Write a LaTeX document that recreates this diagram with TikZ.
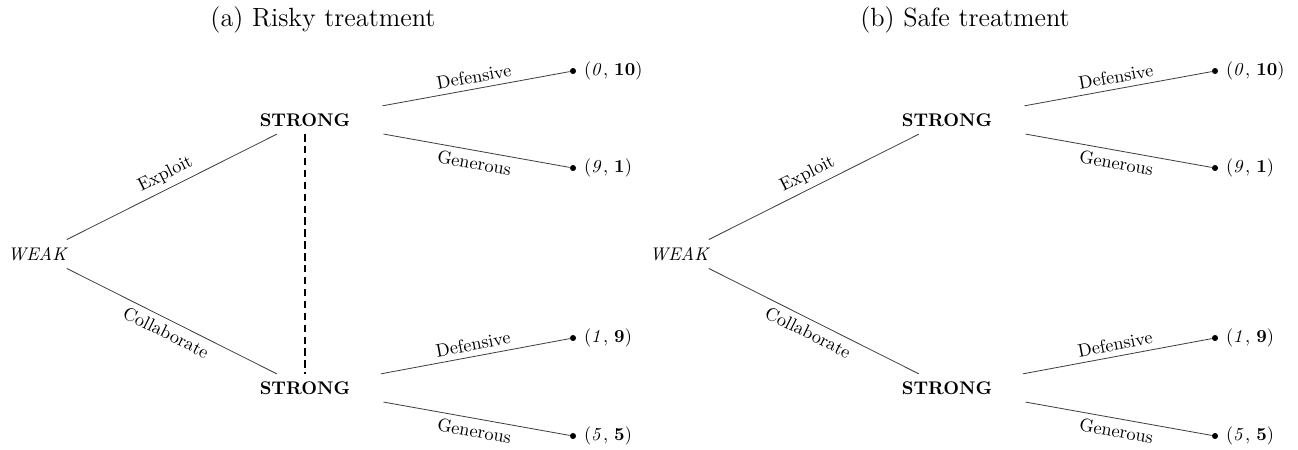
\documentclass[tikz,border=0pt]{standalone}
\usepackage{tikz}
\usetikzlibrary{positioning}

\tikzset{
	player/.style={inner sep=4pt},
	mover/.style={inner sep=4pt, minimum width=3cm},
	leaf/.style={circle, fill=black, inner sep=0pt, minimum size=3.3pt},
	payoff/.style={inner sep=2pt},
	move/.style={draw=black!75, line width=0.45pt},
	act/.style={midway, sloped, inner sep=3pt},
	info/.style={thick, dash pattern=on 4pt off 2.5pt}
}

\begin{document}
\begin{tikzpicture}[x=0.0192cm, y=-0.0192cm]

	\useasboundingbox (0,0) rectangle (1298,449);

	%Panel (a)
	\node (titleA) at (323,20) {\Large (a) Risky treatment};
	\node[player] (weakA) at (38,254) {\textit{WEAK}};
	\node[mover] (topA) at (305,120) {\textbf{STRONG}};
	\node[mover] (botA) at (305,388) {\textbf{STRONG}};

	%Leaves (a)
	\node[leaf] (leafA1) at (573,71) {};
	\node[leaf] (leafA2) at (573,168) {};
	\node[leaf] (leafA3) at (573,338) {};
	\node[leaf] (leafA4) at (573,436) {};
	\node[payoff, right=2pt of leafA1] (payA1) {($\mathit{0}$, $\mathbf{10}$)};
	\node[payoff, right=2pt of leafA2] (payA2) {($\mathit{9}$, $\mathbf{1}$)};
	\node[payoff, right=2pt of leafA3] (payA3) {($\mathit{1}$, $\mathbf{9}$)};
	\node[payoff, right=2pt of leafA4] (payA4) {($\mathit{5}$, $\mathbf{5}$)};

	%Moves (a)
	\draw[move] (weakA) -- node[act, above] {Exploit} (topA);
	\draw[move] (weakA) -- node[act, below] {Collaborate} (botA);
	\draw[move] (topA) -- node[act, above] {Defensive} (leafA1);
	\draw[move] (topA) -- node[act, below] {Generous} (leafA2);
	\draw[move] (botA) -- node[act, above] {Defensive} (leafA3);
	\draw[move] (botA) -- node[act, below] {Generous} (leafA4);
	\draw[info] (topA) -- (botA);

	%Panel (b)
	\node (titleB) at (965,20) {\Large (b) Safe treatment};
	\node[player] (weakB) at (680,254) {\textit{WEAK}};
	\node[mover] (topB) at (947,120) {\textbf{STRONG}};
	\node[mover] (botB) at (947,388) {\textbf{STRONG}};

	%Leaves (b)
	\node[leaf] (leafB1) at (1215,71) {};
	\node[leaf] (leafB2) at (1215,168) {};
	\node[leaf] (leafB3) at (1215,338) {};
	\node[leaf] (leafB4) at (1215,436) {};
	\node[payoff, right=2pt of leafB1] (payB1) {($\mathit{0}$, $\mathbf{10}$)};
	\node[payoff, right=2pt of leafB2] (payB2) {($\mathit{9}$, $\mathbf{1}$)};
	\node[payoff, right=2pt of leafB3] (payB3) {($\mathit{1}$, $\mathbf{9}$)};
	\node[payoff, right=2pt of leafB4] (payB4) {($\mathit{5}$, $\mathbf{5}$)};

	%Moves (b)
	\draw[move] (weakB) -- node[act, above] {Exploit} (topB);
	\draw[move] (weakB) -- node[act, below] {Collaborate} (botB);
	\draw[move] (topB) -- node[act, above] {Defensive} (leafB1);
	\draw[move] (topB) -- node[act, below] {Generous} (leafB2);
	\draw[move] (botB) -- node[act, above] {Defensive} (leafB3);
	\draw[move] (botB) -- node[act, below] {Generous} (leafB4);

\end{tikzpicture}
\end{document}
